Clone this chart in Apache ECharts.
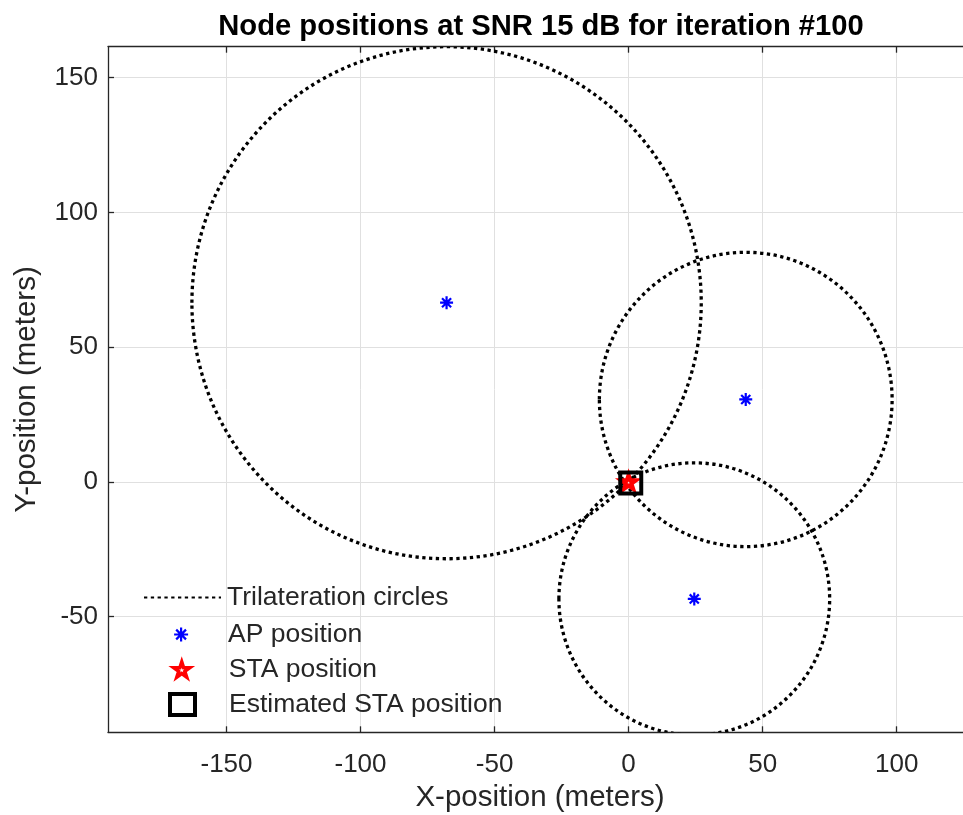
<!DOCTYPE html>
<html>
<head>
<meta charset="utf-8">
<script src="https://cdn.jsdelivr.net/npm/echarts@6/dist/echarts.min.js"></script>
<style>
  html, body { margin: 0; padding: 0; background: #fff; }
  #chart { width: 963px; height: 815px; }
</style>
</head>
<body>
<div id="chart"></div>
<script>
// ---- data ----
const titleText = 'Node positions at SNR 15 dB for iteration #100';
const xTicks = [-150, -100, -50, 0, 50, 100];
const yTicks = [-50, 0, 50, 100, 150];
const apX = [-67.9, 43.7, 24.5];
const apY = [66.5, 30.6, -43.4];
const circleRadius = [95.0, 54.6, 50.5];
const staPos = [0, 0];
const estPos = [0.8, -0.4];
const legendNames = ['Trilateration circles', 'AP position', 'STA position', 'Estimated STA position'];

// ---- build ----
const FONT = 'Liberation Sans';
const AXIS_COLOR = '#262626';
const GRID_COLOR = '#e0e0e0';
const circleData = apX.map((x, i) => [x, apY[i], circleRadius[i]]);
const apData = apX.map((x, i) => [x, apY[i]]);

const dotted = { color: '#000', width: 3.3, type: [3.3, 3.5], cap: 'butt' };
const asteriskPath = 'path://M0,-10L0,10M-10,0L10,0M-7,-7L7,7M-7,7L7,-7';
const starPath = 'path://M0,-1L0.2245,-0.309L0.951,-0.309L0.363,0.118L0.588,0.809L0,0.382L-0.588,0.809L-0.363,0.118L-0.951,-0.309L-0.2245,-0.309Z';

const apStyle = { color: '#0000ff', borderColor: '#0000ff', borderWidth: 2.2, opacity: 1 };
const staStyle = { color: '#ffffff', borderColor: '#ff0000', borderWidth: 4, opacity: 1 };
const staLegendStyle = { color: '#ffffff', borderColor: '#ff0000', borderWidth: 3.5, opacity: 1 };
const estStyle = { color: 'rgba(0,0,0,0)', borderColor: '#000000', borderWidth: 4, opacity: 1 };

function makeLegend(name, left, top, itemWidth, itemHeight, padLeft, extra) {
  return Object.assign({
    data: [name], left: left, top: top, orient: 'vertical', padding: 0,
    itemWidth: itemWidth, itemHeight: itemHeight, selectedMode: false,
    textStyle: { fontFamily: FONT, fontSize: 26.5, color: AXIS_COLOR, lineHeight: 26, padding: [0, 0, 0, padLeft] }
  }, extra || {});
}

const chart = echarts.init(document.getElementById('chart'), null, { renderer: 'canvas' });
chart.setOption({
  animation: false,
  backgroundColor: '#fff',
  title: {
    text: titleText, left: 536, top: 7, textAlign: 'center',
    textStyle: { fontFamily: FONT, fontSize: 29.2, fontWeight: 'bold', color: '#000' }
  },
  grid: { left: 108, top: 46.7, width: 864, bottom: 82.7, outerBoundsMode: 'none', containLabel: false },
  legend: [
    makeLegend(legendNames[0], 143, 584, 77, 14, 1, { itemStyle: { opacity: 0 } }),
    makeLegend(legendNames[1], 173, 621, 14, 14, 35, { itemStyle: apStyle }),
    makeLegend(legendNames[2], 172, 656, 16, 16, 34, { itemStyle: staLegendStyle }),
    makeLegend(legendNames[3], 168, 691, 25, 21, 29, { itemStyle: estStyle })
  ],
  xAxis: [{
    type: 'value', min: -194.2, max: 128.1, position: 'bottom',
    name: 'X-position (meters)', nameLocation: 'middle', nameGap: 49,
    nameTextStyle: { fontFamily: FONT, fontSize: 29.5, color: AXIS_COLOR },
    axisLine: { show: true, onZero: false, lineStyle: { color: AXIS_COLOR, width: 1.3 } },
    axisTick: { show: true, inside: true, length: 6, customValues: xTicks, lineStyle: { color: AXIS_COLOR, width: 1.3 } },
    axisLabel: { show: true, customValues: xTicks, margin: 20, fontFamily: FONT, fontSize: 26, color: AXIS_COLOR },
    splitLine: { show: true, lineStyle: { color: GRID_COLOR, width: 1 } }
  }, {
    type: 'value', min: -194.2, max: 128.1, position: 'top',
    axisLine: { show: true, onZero: false, lineStyle: { color: AXIS_COLOR, width: 1.3 } },
    axisTick: { show: true, inside: true, length: 6, customValues: xTicks, lineStyle: { color: AXIS_COLOR, width: 1.3 } },
    axisLabel: { show: false },
    splitLine: { show: false }
  }],
  yAxis: [{
    type: 'value', min: -92.9, max: 161.5, position: 'left',
    name: 'Y-position (meters)', nameLocation: 'middle', nameGap: 66, nameRotate: 90,
    nameTextStyle: { fontFamily: FONT, fontSize: 29.5, color: AXIS_COLOR },
    axisLine: { show: true, onZero: false, lineStyle: { color: AXIS_COLOR, width: 1.3 } },
    axisTick: { show: true, inside: true, length: 6, customValues: yTicks, lineStyle: { color: AXIS_COLOR, width: 1.3 } },
    axisLabel: { show: true, customValues: yTicks, margin: 10, fontFamily: FONT, fontSize: 26, color: AXIS_COLOR },
    splitLine: { show: true, lineStyle: { color: GRID_COLOR, width: 1 } }
  }],
  series: [
    {
      name: legendNames[0], type: 'line', data: [], symbol: 'none',
      lineStyle: dotted, itemStyle: { color: '#000' }
    },
    {
      name: legendNames[0], type: 'custom', data: circleData, clip: true,
      encode: { x: 0, y: 1 },
      itemStyle: { color: '#000' },
      renderItem: function (params, api) {
        const c = api.coord([api.value(0), api.value(1)]);
        const s = api.size([api.value(2), api.value(2)]);
        return {
          type: 'ellipse',
          shape: { cx: c[0], cy: c[1], rx: s[0], ry: s[1] },
          style: { fill: 'none', stroke: '#000', lineWidth: 3.3, lineDash: [3.3, 3.5], lineCap: 'butt' }
        };
      }
    },
    {
      name: legendNames[1], type: 'scatter', data: apData,
      symbol: asteriskPath, symbolSize: 13,
      itemStyle: apStyle
    },
    {
      name: legendNames[2], type: 'scatter', data: [staPos],
      symbol: starPath, symbolSize: 15, symbolKeepAspect: true,
      itemStyle: staStyle
    },
    {
      name: legendNames[3], type: 'scatter', data: [estPos],
      symbol: 'rect', symbolSize: 21,
      itemStyle: estStyle
    }
  ]
});
</script>
</body>
</html>
